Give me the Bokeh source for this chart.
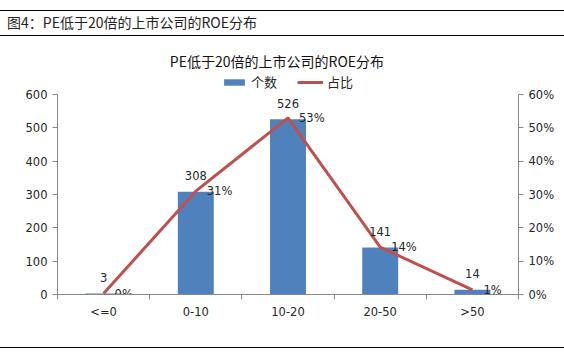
from bokeh.plotting import figure
from bokeh.models import (Range1d, LinearAxis, FixedTicker, NumeralTickFormatter,
                          Legend, LegendItem, ColumnDataSource, Div, Label)
from bokeh.layouts import column
from bokeh.embed import file_html
from bokeh.resources import INLINE
from bokeh.core.properties import value

# ---- data ----
categories = ["<=0", "0-10", "10-20", "20-50", ">50"]
counts = [3, 308, 526, 141, 14]
shares = [0.003, 0.31, 0.53, 0.142, 0.014]
share_labels = ["0%", "31%", "53%", "14%", "1%"]
count_ticks = [0, 100, 200, 300, 400, 500, 600]
share_ticks = [0.0, 0.1, 0.2, 0.3, 0.4, 0.5, 0.6]
header_text = "图4：PE低于20倍的上市公司的ROE分布"
chart_title = "PE低于20倍的上市公司的ROE分布"
series_names = ["个数", "占比"]

W = 564
CJK = "Noto Sans CJK SC"
NUM = "DejaVu Sans"
AXIS_C = "#868686"
TXT_C = "#262626"
BLUE = "#4F81BD"
RED = "#C0504D"

# ---- header strip ----
hdr = Div(width=W, height=36, margin=0,
          text=('<div style="margin-top:9.5px;border-top:1.5px solid #000;'
                'border-bottom:1.5px solid #000;height:26px;line-height:23px;'
                'padding-left:7px;width:%dpx;box-sizing:border-box;'
                'font-family:\'%s\';font-size:14px;color:#222;">%s</div>') % (W, CJK, header_text))

# ---- main chart ----
# frame spans from the chart title area down to the zero line; axes are bounded to the data range
EXT = 249.0 / 200.0
xs = [i + 0.5 for i in range(len(categories))]
src = ColumnDataSource(dict(x=xs, cat=categories, n=counts, s=shares,
                            nl=[str(c) for c in counts], sl=share_labels))

p = figure(width=W, height=311, x_range=Range1d(0, len(categories)),
           y_range=Range1d(count_ticks[0], count_ticks[-1] * EXT),
           output_backend="svg", toolbar_location=None,
           min_border_left=57, min_border_right=46, min_border_top=9, min_border_bottom=53)
p.extra_y_ranges = {"pct": Range1d(share_ticks[0], share_ticks[-1] * EXT)}
p.grid.visible = False
p.outline_line_color = None

bars = p.vbar(x="x", top="n", width=0.39, source=src, fill_color=BLUE, line_color=None)
line = p.line(x="x", y="s", source=src, y_range_name="pct", line_color=RED, line_width=3)

p.text(x="x", y="n", text="nl", source=src, y_offset=-16, text_align="center",
       text_baseline="middle", text_font=value(NUM), text_font_size="11.5px", text_color=TXT_C)
p.text(x="x", y="s", text="sl", source=src, y_range_name="pct", x_offset=11,
       text_align="left", text_baseline="middle", text_font=value(NUM),
       text_font_size="11.5px", text_color=TXT_C)

# x axis: labels at centers, tick marks at boundaries
xa = p.xaxis[0]
xa.ticker = FixedTicker(ticks=xs, minor_ticks=list(range(len(categories) + 1)))
xa.major_label_overrides = {x: c for x, c in zip(xs, categories)}
xa.major_tick_out = 0
xa.major_tick_in = 0
xa.minor_tick_out = 5
xa.minor_tick_in = 0
xa.major_label_standoff = 5

ya = p.yaxis[0]
ya.ticker = FixedTicker(ticks=count_ticks)
ya.bounds = (count_ticks[0], count_ticks[-1])
ya.major_tick_out = 5
ya.major_tick_in = 0
ya.minor_tick_line_color = None
ya.major_label_standoff = 5

ra = LinearAxis(y_range_name="pct", ticker=FixedTicker(ticks=share_ticks),
                formatter=NumeralTickFormatter(format="0%"),
                bounds=(share_ticks[0], share_ticks[-1]))
ra.major_tick_out = 5
ra.major_tick_in = 0
ra.minor_tick_line_color = None
ra.major_label_standoff = 5
p.add_layout(ra, "right")

for ax in [xa, ya, ra]:
    ax.axis_line_color = AXIS_C
    ax.major_tick_line_color = AXIS_C if ax is not xa else None
    ax.major_label_text_font = NUM
    ax.major_label_text_font_size = "11.5px"
    ax.major_label_text_color = TXT_C
xa.minor_tick_line_color = AXIS_C

# chart title inside the extended frame
p.add_layout(Label(x=2.38, y=702, text=chart_title, text_font=CJK, text_font_size="14px",
                   text_align="center", text_baseline="middle", text_color="#111111"))

legend = Legend(items=[LegendItem(label=series_names[0], renderers=[bars]),
                       LegendItem(label=series_names[1], renderers=[line])],
                orientation="horizontal", location=(164, 203), padding=0, margin=0,
                spacing=20, glyph_width=26, glyph_height=8, label_standoff=4,
                label_text_font=CJK, label_text_font_size="13px", label_text_color=TXT_C,
                border_line_color=None, background_fill_alpha=0)
p.add_layout(legend)

# ---- footer strip ----
ftr = Div(width=W, height=6, margin=0, text="&nbsp;",
          styles={"border-top": "1.5px solid #000", "box-sizing": "border-box",
                  "overflow": "hidden", "line-height": "1px", "font-size": "1px"})

layout = column(hdr, p, ftr, spacing=0)
open("out.html", "w").write(file_html(layout, INLINE))
